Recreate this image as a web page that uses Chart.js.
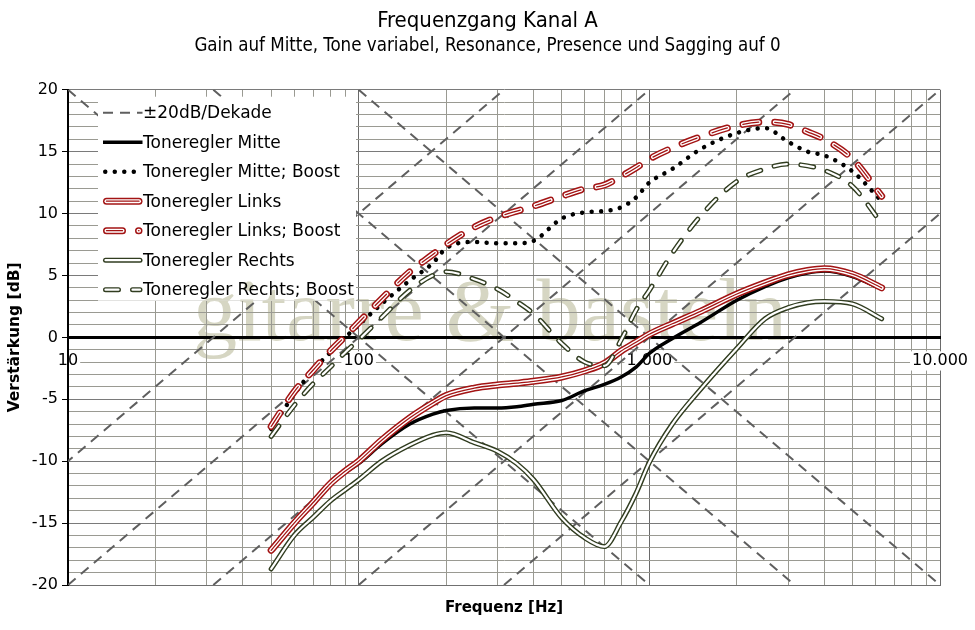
<!DOCTYPE html>
<html>
<head>
<meta charset="utf-8">
<script src="https://cdn.jsdelivr.net/npm/chart.js@4.4.1/dist/chart.umd.min.js"></script>
<style>
  html, body { margin: 0; padding: 0; background: #fff; }
  #wrap { width: 975px; height: 630px; }
</style>
</head>
<body>
<div id="wrap"><canvas id="chart" width="975" height="630"></canvas></div>
<script>
// --- Data ---
const freqs       = [50, 60, 70, 80, 90, 100, 120, 150, 180, 200, 250, 300, 350, 400, 500, 600, 700, 800, 900, 1000, 1200, 1500, 2000, 2500, 3000, 3500, 4000, 5000, 6300];
const mitte       = [-17.0, -15.0, -13.3, -11.8, -10.9, -10.2, -8.6, -7.0, -6.2, -5.9, -5.7, -5.7, -5.6, -5.4, -5.1, -4.3, -3.8, -3.2, -2.4, -1.3, -0.1, 1.2, 3.0, 4.1, 4.8, 5.2, 5.35, 4.9, 3.9];
const mitteBoost  = [-7.4, -4.6, -2.6, -1.2, 0.0, 1.0, 2.7, 4.6, 6.0, 7.2, 7.7, 7.6, 7.6, 7.8, 9.6, 10.1, 10.2, 10.5, 11.3, 12.5, 13.6, 15.2, 16.5, 16.9, 15.8, 15.0, 14.7, 13.4, 11.0];
const links       = [-17.2, -15.0, -13.3, -11.8, -10.8, -10.0, -8.3, -6.5, -5.3, -4.7, -4.1, -3.85, -3.7, -3.55, -3.2, -2.7, -2.1, -1.1, -0.4, 0.25, 1.1, 2.1, 3.5, 4.4, 5.05, 5.4, 5.55, 5.1, 4.0];
const linksBoost  = [-7.2, -4.4, -2.6, -1.1, 0.1, 1.2, 3.1, 5.3, 6.7, 7.5, 8.9, 9.7, 10.2, 10.6, 11.4, 12.0, 12.3, 13.0, 13.7, 14.4, 15.3, 16.2, 17.1, 17.4, 17.2, 16.6, 16.0, 14.4, 11.4];
const rechts      = [-18.7, -16.0, -14.5, -13.2, -12.3, -11.5, -10.0, -8.7, -7.9, -7.7, -8.5, -9.2, -10.2, -11.5, -14.6, -16.2, -16.9, -14.9, -12.6, -10.1, -7.0, -4.2, -0.9, 1.5, 2.4, 2.8, 2.9, 2.7, 1.5];
const rechtsBoost = [-8.0, -5.5, -3.7, -2.4, -1.2, -0.2, 1.6, 3.8, 5.0, 5.3, 4.7, 3.9, 2.9, 1.9, -0.5, -2.0, -2.3, -0.2, 2.2, 3.8, 6.8, 9.8, 12.6, 13.6, 14.0, 13.85, 13.5, 12.2, 9.2];

// frequencies where the +20 dB/decade and -20 dB/decade guide lines cross 0 dB
const riseZero    = [31.62, 100, 316.2, 1000, 3162];
const fallZero    = [100, 316.2, 1000];

const xTickValues = [10, 100, 1000, 10000];
const xTickText   = ['10', '100', '1.000', '10.000'];
const yLabels     = [-20, -15, -10, -5, 0, 5, 10, 15, 20];

// grid positions
const xGrid = [];
for (let e = 1; e <= 3; e++) for (let m = 1; m <= 9; m++) xGrid.push(m * Math.pow(10, e));
xGrid.push(10000);
const yGrid = [];
for (let v = -20; v <= 20; v++) yGrid.push(v);

// --- Styles ---
const RED = '#a31414', GREEN = '#313d20', DIAG = '#5f5f5f';
const series = [
  { label: 'Toneregler Mitte',        data: mitte,       layers: [{ c: '#000', w: 3.5 }] },
  { label: 'Toneregler Mitte; Boost', data: mitteBoost,  layers: [{ c: '#000', w: 4.5, dash: [0.01, 9.5], cap: 'round' }] },
  { label: 'Toneregler Links',        data: links,       layers: [{ c: RED, w: 7, cap: 'round' }, { c: '#fff', w: 4, cap: 'round' }, { c: RED, w: 1.3, cap: 'round' }] },
  { label: 'Toneregler Links; Boost', data: linksBoost,  layers: [{ c: RED, w: 7, dash: [16, 16], cap: 'round' }, { c: '#fff', w: 4, dash: [16, 16], cap: 'round' }, { c: RED, w: 1.3, dash: [16, 16], cap: 'round' }] },
  { label: 'Toneregler Rechts',       data: rechts,      layers: [{ c: GREEN, w: 5, cap: 'round' }, { c: '#fff', w: 2.2, cap: 'round' }] },
  { label: 'Toneregler Rechts; Boost',data: rechtsBoost, layers: [{ c: GREEN, w: 5, dash: [13, 14], cap: 'round' }, { c: '#fff', w: 2.2, dash: [13, 14], cap: 'round' }] }
];
const diagStyle = { c: DIAG, w: 2, dash: [10, 7] };

// --- Datasets ---
const datasets = [];
function guideLine(f0, sign) {
  datasets.push({
    label: '±20dB/Dekade',
    data: [{ x: f0 / 10, y: -20 * sign }, { x: f0 * 10, y: 20 * sign }],
    borderColor: diagStyle.c, borderWidth: diagStyle.w, borderDash: diagStyle.dash,
    pointRadius: 0, fill: false, order: 1000
  });
}
riseZero.forEach(f0 => guideLine(f0, 1));
fallZero.forEach(f0 => guideLine(f0, -1));

series.forEach((s, i) => {
  s.layers.forEach((l, j) => {
    datasets.push({
      label: s.label,
      data: freqs.map((f, k) => ({ x: f, y: s.data[k] })),
      borderColor: l.c, borderWidth: l.w, borderDash: l.dash || [],
      borderCapStyle: l.cap || 'butt', borderJoinStyle: 'round',
      cubicInterpolationMode: 'monotone',
      pointRadius: 0, fill: false,
      order: 100 - (i * 10 + j)
    });
  });
});

// --- Watermark & legend ---
function drawWatermark(ctx, a) {
  const text = 'gitarre & basteln';
  ctx.save();
  ctx.font = '88px "Liberation Serif", "DejaVu Serif", serif';
  const size = 88 * 594 / ctx.measureText(text).width;
  ctx.font = size + 'px "Liberation Serif", "DejaVu Serif", serif';
  ctx.fillStyle = '#d6d6c3';
  ctx.textAlign = 'left';
  ctx.textBaseline = 'alphabetic';
  ctx.fillText(text, a.left + 125, a.top + 250);
  ctx.restore();
}

function strokeSample(ctx, layers, x1, x2, y) {
  // all layers share the inset of the widest one so dashes line up
  const inset = layers[0].cap === 'round' ? layers[0].w / 2 : 0;
  layers.forEach(l => {
    ctx.save();
    ctx.strokeStyle = l.c;
    ctx.lineWidth = l.w;
    ctx.setLineDash(l.dash || []);
    ctx.lineCap = l.cap || 'butt';
    ctx.beginPath();
    ctx.moveTo(x1 + inset, y);
    ctx.lineTo(x2 - inset + 0.5, y);
    ctx.stroke();
    ctx.restore();
  });
}

const backgroundPlugin = {
  id: 'background',
  beforeDraw(chart) {
    const ctx = chart.ctx;
    ctx.save();
    ctx.fillStyle = '#fff';
    ctx.fillRect(0, 0, chart.width, chart.height);
    ctx.restore();
    drawWatermark(ctx, chart.chartArea);
  }
};

const legendPlugin = {
  id: 'boxLegend',
  afterDatasetsDraw(chart) {
    const { ctx, chartArea: a } = chart;
    const bx = a.left + 30, by = a.top + 7, bw = 258, bh = 204;
    ctx.save();
    ctx.fillStyle = '#fff';
    ctx.fillRect(bx, by, bw, bh);
    ctx.beginPath();
    ctx.rect(bx, by, bw, bh);
    ctx.clip();
    drawWatermark(ctx, a);
    ctx.restore();

    const items = [{ label: '±20dB/Dekade', layers: [diagStyle] }].concat(series);
    items.forEach((it, i) => {
      const cy = by + 16 + i * 29.5;
      strokeSample(ctx, it.layers, bx + 5, bx + 44, cy);
      ctx.save();
      ctx.fillStyle = '#000';
      ctx.font = '17px "DejaVu Sans", sans-serif';
      ctx.textBaseline = 'middle';
      ctx.textAlign = 'left';
      ctx.fillText(it.label, bx + 45, cy + 1);
      ctx.restore();
    });
  }
};

// --- Chart ---
Chart.defaults.font.family = '"DejaVu Sans", sans-serif';
Chart.defaults.color = '#000';

const isDecade = v => Math.abs(Math.log10(v) - Math.round(Math.log10(v))) < 1e-9;
const noPad = s => { s.paddingLeft = 0; s.paddingRight = 0; };

new Chart(document.getElementById('chart'), {
  type: 'line',
  data: { datasets },
  plugins: [backgroundPlugin, legendPlugin],
  options: {
    responsive: false,
    animation: false,
    layout: { padding: 0 },
    plugins: {
      legend: { display: false },
      tooltip: { enabled: false },
      title: {
        display: true, text: 'Frequenzgang Kanal A', color: '#000',
        font: { family: '"DejaVu Sans Condensed", "DejaVu Sans", sans-serif', size: 22, weight: 'normal' },
        padding: { top: 8, bottom: 1 }
      },
      subtitle: {
        display: true, text: 'Gain auf Mitte, Tone variabel, Resonance, Presence und Sagging auf 0', color: '#000',
        font: { family: '"DejaVu Sans Condensed", "DejaVu Sans", sans-serif', size: 18.6, weight: 'normal' },
        padding: { top: 0, bottom: 32 }
      }
    },
    scales: {
      x: {
        type: 'logarithmic', position: 'bottom', min: 10, max: 10000,
        afterBuildTicks: s => { s.ticks = xGrid.map(v => ({ value: v })); },
        afterFit: s => { s.height = 45; noPad(s); },
        ticks: { display: false, autoSkip: false },
        grid: { color: c => isDecade(c.tick.value) ? '#6a6a6a' : '#9a9a92', lineWidth: 1, drawTicks: false },
        border: { display: true, color: '#707070', width: 1 },
        title: { display: true, text: 'Frequenz [Hz]', color: '#000', font: { size: 15, weight: 'bold' }, padding: { top: 0, bottom: 13 } }
      },
      x0: {
        axis: 'x', type: 'logarithmic', position: { y: 0 }, min: 10, max: 10000, z: 1,
        afterBuildTicks: s => { s.ticks = xTickValues.map(v => ({ value: v })); },
        afterFit: noPad,
        ticks: {
          autoSkip: false, maxRotation: 0, padding: 14, font: { size: 16 }, color: '#000',
          callback: v => xTickText[xTickValues.indexOf(v)],
          showLabelBackdrop: true, backdropColor: '#fff', backdropPadding: { x: 2, y: 0 }
        },
        grid: { display: false, drawTicks: false },
        border: { display: true, color: '#000', width: 3 }
      },
      y: {
        type: 'linear', position: 'left', min: -20, max: 20,
        afterBuildTicks: s => { s.ticks = yGrid.map(v => ({ value: v })); },
        afterFit: s => { s.width = 68; },
        ticks: { autoSkip: false, padding: 4, font: { size: 16 }, color: '#000', callback: v => yLabels.includes(v) ? String(v) : '' },
        grid: {
          color: c => (c.tick && c.tick.value % 5 === 0) ? '#7a7a7a' : '#9a9a92',
          tickColor: c => (c.tick && yLabels.includes(c.tick.value)) ? '#000' : 'rgba(0,0,0,0)',
          tickLength: 6, lineWidth: 1
        },
        border: { display: true, color: '#000', width: 2 },
        title: { display: true, text: 'Verstärkung [dB]', color: '#000', font: { size: 15.5, weight: 'bold' }, padding: { top: 6, bottom: 0 } }
      },
      yRight: {
        axis: 'y', type: 'linear', position: 'right', min: -20, max: 20,
        afterFit: s => { s.width = 35; },
        ticks: { display: false },
        grid: { display: false, drawTicks: false },
        border: { display: false }
      }
    }
  }
});
</script>
</body>
</html>
